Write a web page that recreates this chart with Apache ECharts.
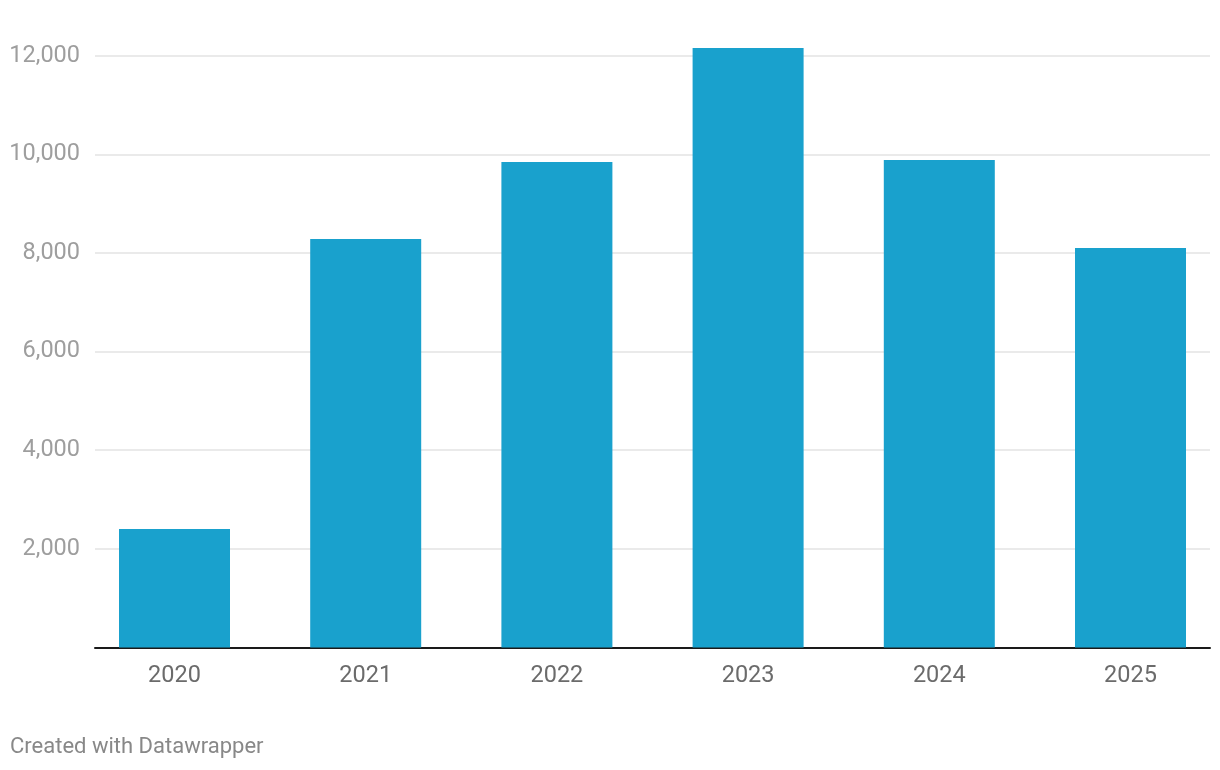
<!DOCTYPE html>
<html>
<head>
<meta charset="utf-8">
<script src="https://cdn.jsdelivr.net/npm/echarts@6/dist/echarts.min.js"></script>
<style>
html,body{margin:0;padding:0;background:#fff;}
#chart{width:1220px;height:770px;}
</style>
</head>
<body>
<div id="chart"></div>
<script>
const categories = ['2020', '2021', '2022', '2023', '2024', '2025'];
const values = [2403, 8283, 9845, 12156, 9885, 8101];
const yTicks = [0, 2000, 4000, 6000, 8000, 10000, 12000];

const chart = echarts.init(document.getElementById('chart'), null, {renderer: 'canvas'});
const font = 'Roboto, "Noto Sans", sans-serif';
const gridTop = 55.7, gridBottom = 770 - 647.5;

chart.setOption({
  animation: false,
  backgroundColor: '#ffffff',
  grid: [
    {left: 95, right: 10, top: gridTop, bottom: gridBottom},
    {left: 174.5, right: 89.5, top: gridTop, bottom: gridBottom}
  ],
  xAxis: [
    {
      gridIndex: 0, type: 'category', data: categories,
      axisLine: {show: true, lineStyle: {color: '#1a1a1a', width: 2}},
      axisTick: {show: false}, axisLabel: {show: false}, splitLine: {show: false}
    },
    {
      gridIndex: 1, type: 'category', data: categories, boundaryGap: false,
      axisLine: {show: false}, axisTick: {show: false},
      axisLabel: {color: '#6b6b6b', fontSize: 23.5, fontFamily: font, margin: 17}
    }
  ],
  yAxis: [
    {
      gridIndex: 0, type: 'value', min: yTicks[0], max: yTicks[yTicks.length - 1], interval: 2000,
      axisLine: {show: false}, axisTick: {show: false},
      axisLabel: {
        color: '#9e9e9e', fontSize: 23.5, fontFamily: font, margin: 15,
        padding: [3, 0, 0, 0],
        formatter: v => v === 0 ? '' : v.toLocaleString('en-US')
      },
      splitLine: {show: true, lineStyle: {color: '#e3e3e3', width: 1.5}},
      z: 0
    },
    {
      gridIndex: 1, type: 'value', min: yTicks[0], max: yTicks[yTicks.length - 1], interval: 2000,
      show: false, splitLine: {show: false}
    }
  ],
  series: [{
    type: 'bar',
    xAxisIndex: 1, yAxisIndex: 1,
    data: values,
    barWidth: 111,
    clip: false,
    itemStyle: {color: '#19a1cd'},
    z: 1
  }],
  graphic: [{
    type: 'text', left: 10, top: 736,
    style: {text: 'Created with Datawrapper', fill: '#888888', fontSize: 22, fontFamily: font}
  }]
});
</script>
</body>
</html>
